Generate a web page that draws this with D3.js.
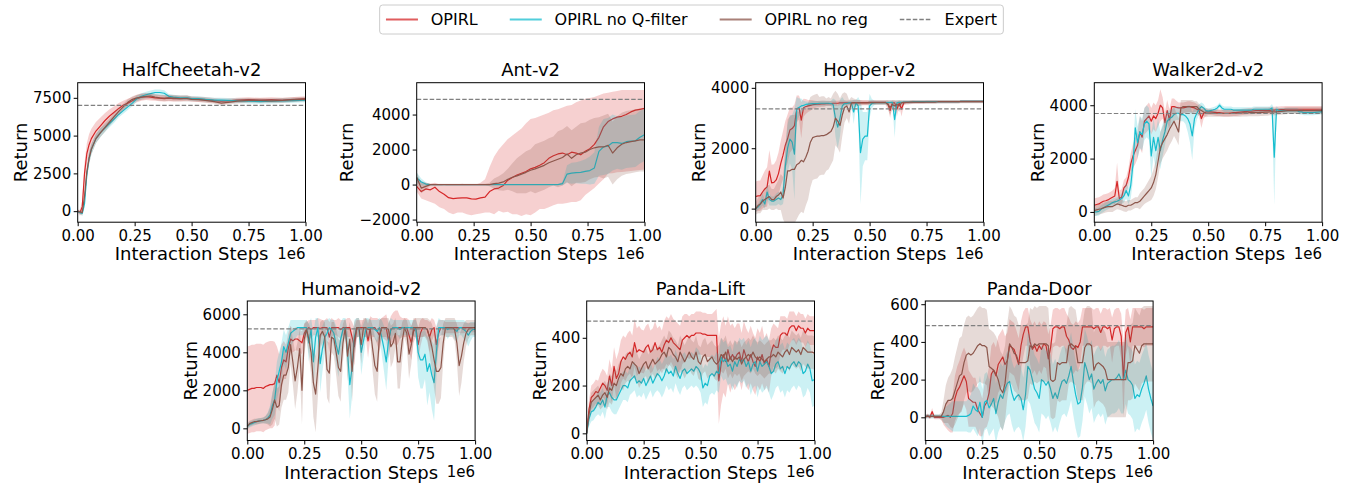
<!DOCTYPE html>
<html><head><meta charset="utf-8">
<script src="https://cdn.jsdelivr.net/npm/d3@7"></script>
<style>
body{margin:0;background:#fff}
svg{display:block}
text{font-family:"DejaVu Sans",sans-serif;fill:#000}
</style>
</head><body>
<svg id="chart" width="1354" height="483"></svg>
<script>
// ---------------- DATA ----------------
const legendLabels = ["OPIRL", "OPIRL no Q-filter", "OPIRL no reg", "Expert"];
const envNames = ["HalfCheetah-v2", "Ant-v2", "Hopper-v2", "Walker2d-v2", "Humanoid-v2", "Panda-Lift", "Panda-Door"];
const xTickValues = [0, 0.25, 0.5, 0.75, 1];
const xTickLabels = ["0.00", "0.25", "0.50", "0.75", "1.00"];
const xLabel = "Interaction Steps";
const xOffsetLabel = "1e6";
const yLabel = "Return";

const steps101 = [0,.01,.02,.03,.04,.05,.06,.07,.08,.09,
.1,.11,.12,.13,.14,.15,.16,.17,.18,.19,
.2,.21,.22,.23,.24,.25,.26,.27,.28,.29,
.3,.31,.32,.33,.34,.35,.36,.37,.38,.39,
.4,.41,.42,.43,.44,.45,.46,.47,.48,.49,
.5,.51,.52,.53,.54,.55,.56,.57,.58,.59,
.6,.61,.62,.63,.64,.65,.66,.67,.68,.69,
.7,.71,.72,.73,.74,.75,.76,.77,.78,.79,
.8,.81,.82,.83,.84,.85,.86,.87,.88,.89,
.9,.91,.92,.93,.94,.95,.96,.97,.98,.99,
1];

// HalfCheetah-v2
const hcSteps = [0,.01,.02,.03,.04,.05,.06,.08,.10,.12,.14,.16,.18,.20,.22,.24,.26,.28,.30,.32,.34,.36,.38,.40,.42,.45,.48,.50,.53,.56,.60,.63,.66,.70,.75,.80,.85,.90,.95,1.0];
const hcOpirl = [0,-100,300,2500,3800,4400,4800,5300,5650,6000,6300,6550,6800,7000,7150,7300,7450,7550,7580,7550,7500,7480,7450,7480,7450,7450,7480,7430,7400,7380,7320,7280,7300,7350,7380,7350,7380,7350,7400,7450];
const hcOpirlStd = [100,200,400,700,700,700,650,600,550,500,450,400,350,300,280,250,250,250,230,220,200,200,200,200,200,180,180,180,170,170,170,170,160,160,150,150,150,150,150,150];
const hcNoQ = [0,-100,-150,500,2400,3500,4100,4800,5200,5500,5800,6100,6400,6650,6900,7150,7450,7600,7700,7780,7850,7850,7800,7600,7550,7500,7500,7450,7450,7400,7350,7350,7330,7300,7280,7250,7280,7300,7320,7350];
const hcNoQStd = [50,100,150,300,400,400,350,300,300,250,250,250,200,200,200,200,200,200,200,200,200,200,200,150,150,150,150,150,150,150,150,150,150,150,150,150,150,150,150,150];
const hcNoReg = [0,-50,-100,1000,2600,3500,4100,4800,5200,5550,5900,6250,6600,6900,7200,7400,7500,7550,7600,7620,7550,7500,7480,7500,7480,7450,7450,7400,7380,7330,7250,7150,7200,7280,7330,7330,7300,7330,7380,7400];
const hcNoRegStd = [50,100,200,400,400,400,350,300,300,300,250,250,250,200,200,200,200,200,200,200,200,200,200,200,200,200,200,150,150,150,150,150,150,150,150,150,150,150,150,150];
const hcExpert = 7000;
const hcYTicks = [0, 2500, 5000, 7500];
const hcYDomain = [-730, 8500];

// Ant-v2
const antSteps = [0,.02,.04,.06,.08,.1,.12,.14,.16,.18,.2,.22,.24,.26,.28,.3,.32,.34,.36,.38,.4,.42,.44,.46,.48,.5,.52,.54,.56,.58,.6,.62,.64,.66,.68,.7,.72,.74,.76,.78,.8,.82,.84,.86,.88,.9,.92,.94,.96,.98,1];
const antOpirl = [-100,-400,-250,-300,-150,-400,-550,-750,-800,-780,
-760,-760,-820,-830,-760,-720,-400,-250,-200,-50,
250,400,550,650,750,900,980,1100,1250,1500,
1650,1750,1800,1700,1850,1800,1700,1900,2050,2300,
2700,3300,3600,3750,3850,3900,4000,4150,4250,4300,
4350];
const antOpirlLo = [-400,-800,-900,-1000,-1100,-1300,-1400,-1600,-1700,-1600,
-1600,-1700,-1750,-1700,-1650,-1600,-1600,-1700,-1500,-1600,
-1560,-1700,-1700,-1800,-1700,-1750,-1600,-1400,-1400,-1300,
-1180,-1100,-1100,-1050,-1000,-1000,-900,-600,-400,-200,
60,300,630,650,700,720,750,780,800,830,
860];
const antOpirlHi = [300,200,100,50,100,0,-50,0,0,0,
50,0,0,0,100,300,1000,1600,2000,2300,
2600,2800,3000,3200,3500,3750,3800,3900,4000,4100,
4250,4300,4400,4500,4550,4700,4800,4900,4950,5000,
5100,5200,5250,5300,5350,5400,5400,5400,5400,5400,
5400];
const antNoQ = [400,150,30,0,0,0,0,0,0,0,
0,0,0,0,0,0,0,0,0,0,
0,0,0,0,0,0,0,0,0,0,
0,0,50,600,650,680,700,750,800,950,
1900,2150,2200,2400,2400,2350,2450,2480,2500,2700,
2850];
const antNoQStd = [300,200,100,20,20,20,20,20,20,20,
20,20,20,20,20,20,20,20,20,20,
20,20,20,20,20,20,20,20,20,20,
20,20,100,500,600,600,650,700,800,900,
1400,1600,1600,1600,1500,1500,1500,1500,1500,1500,
1500];
const antNoReg = [400,-200,-100,0,0,0,0,0,0,0,
0,0,0,0,0,0,0,50,80,150,
300,420,500,600,700,820,900,1000,1100,1250,
1350,1450,1550,1750,1500,1700,1800,1850,2000,2100,
2150,2150,2250,1800,2100,2300,2400,2450,2500,2550,
2550];
const antNoRegStd = [300,300,200,50,50,50,50,50,50,50,
50,50,50,50,50,50,100,300,400,500,
600,800,1000,1100,1200,1200,1400,1400,1400,1400,
1400,1600,1600,1600,1600,1600,1700,1700,1700,1700,
1700,1800,1800,1800,1800,1800,1800,1800,1800,1800,
1800];
const antExpert = 4870;
const antYTicks = [-2000, 0, 2000, 4000];
const antYDomain = [-2150, 5820];

// Hopper-v2
const hopOpirl = [400,420,430,550,650,720,1240,850,870,950,
1160,1500,1770,2100,2320,2600,2650,2750,3300,3350,
2930,3340,3380,3400,3420,3440,3450,3460,3460,3470,
3470,3480,3480,3480,3490,3490,3490,3500,3500,3500,
3500,3500,3500,3510,3510,3510,3510,3510,3510,3510,
3520,3520,3520,3520,3520,3520,3520,3520,3480,3250,
3500,3500,3300,3500,3300,3500,3520,3520,3520,3530,
3530,3530,3530,3530,3530,3540,3540,3540,3540,3540,
3540,3540,3540,3540,3540,3540,3540,3540,3540,3540,
3550,3550,3550,3550,3550,3550,3550,3550,3550,3550,
3550];
const hopOpirlStd = [500,500,500,550,600,650,700,600,600,650,
700,750,800,800,800,750,700,700,450,400,
600,300,250,200,180,150,120,100,100,100,
100,80,80,80,80,80,80,80,80,80,
80,80,80,80,80,80,80,80,80,80,
60,60,60,60,60,60,60,60,100,250,
80,80,250,80,250,80,60,60,60,60,
60,60,60,60,60,60,60,60,60,60,
50,50,50,50,50,50,50,50,50,50,
50,50,50,50,50,50,50,50,50,50,
50];
const hopNoQ = [0,50,150,300,150,550,300,250,250,300,
350,300,450,1400,2000,2300,2200,1800,3300,3350,
3400,3420,3450,3460,3470,3480,3480,3480,3490,3490,
3490,3490,3490,3480,3450,3000,2700,3000,3400,3480,
3480,3500,3500,3200,3500,3400,1850,2300,2400,2400,
3400,3480,3500,3510,3510,3510,3510,3510,3510,3520,
3520,2950,3500,3520,3520,3530,3530,3530,3530,3540,
3540,3540,3540,3540,3540,3540,3540,3540,3540,3540,
3540,3540,3540,3540,3540,3540,3540,3540,3540,3540,
3550,3550,3550,3550,3550,3550,3550,3550,3550,3550,
3550];
const hopNoQStd = [100,100,150,200,150,250,200,150,150,200,
200,200,300,700,800,800,900,1500,400,300,
250,150,100,80,80,80,80,80,80,80,
80,80,80,80,200,600,700,600,300,100,
80,80,80,400,100,300,1700,900,800,800,
400,150,80,60,60,60,60,60,60,60,
60,600,80,60,60,60,50,50,50,50,
50,50,50,50,50,50,50,50,50,50,
50,50,50,50,50,50,50,50,50,50,
50,50,50,50,50,50,50,50,50,50,
50];
const hopNoReg = [0,100,150,250,300,350,400,300,300,400,
450,550,350,700,1250,1250,1300,1300,1450,1500,
1600,1550,1700,1900,2200,2350,2380,2400,2400,2420,
2420,2450,2500,2550,2700,3000,2900,2750,3100,3350,
3400,3200,3500,3500,3500,3500,3500,3500,3500,3500,
3500,3510,3510,3510,3510,3510,3510,3510,3450,3350,
3450,3400,3450,3400,3500,3520,3520,3520,3530,3530,
3530,3530,3530,3530,3530,3530,3530,3530,3530,3530,
3540,3540,3540,3540,3540,3540,3540,3540,3540,3540,
3540,3540,3540,3540,3540,3540,3540,3540,3540,3540,
3540];
const hopNoRegStd = [200,250,300,300,350,400,400,350,350,400,
500,600,700,1200,1700,1800,1800,1800,1800,1700,
1700,1700,1600,1600,1500,1400,1400,1400,1300,1300,
1300,1200,1200,1100,1100,900,900,900,700,500,
400,400,200,150,120,100,100,80,80,80,
80,80,80,80,80,80,80,80,150,250,
150,200,150,200,100,60,60,60,60,60,
50,50,50,50,50,50,50,50,50,50,
50,50,50,50,50,50,50,50,50,50,
50,50,50,50,50,50,50,50,50,50,
50];
const hopExpert = 3300;
const hopYTicks = [0, 2000, 4000];
const hopYDomain = [-450, 4170];

// Walker2d-v2
const wkOpirl = [250,280,300,350,400,420,450,500,550,600,
1150,500,550,900,1000,1300,1800,2100,2300,2500,
3000,2800,3400,3500,3600,3400,3600,3500,3700,4000,
3900,3350,3800,3450,3950,3950,3920,3900,3900,3900,
3920,3950,3950,3920,3900,3850,3800,3500,3700,3750,
3750,3750,3740,3730,3720,3720,3710,3700,3700,3700,
3710,3720,3720,3730,3740,3750,3760,3770,3780,3780,
3790,3800,3800,3800,3800,3800,3800,3810,3820,3820,
3830,3830,3840,3840,3850,3850,3850,3850,3850,3850,
3850,3850,3850,3850,3850,3850,3850,3850,3850,3850,
3850];
const wkOpirlStd = [250,250,250,250,250,250,250,250,250,300,
700,300,300,300,300,350,400,450,500,500,
600,600,500,500,500,500,500,500,500,600,
400,400,400,400,300,300,250,200,200,200,
200,200,200,200,200,200,200,350,200,150,
120,120,120,120,120,120,120,120,120,120,
120,120,120,120,120,120,120,120,120,120,
120,120,120,120,120,120,120,120,120,120,
120,120,120,120,120,120,120,120,120,120,
120,120,120,120,120,120,120,120,120,120,
120];
const wkNoQ = [0,0,20,100,150,200,250,300,350,380,
400,450,500,600,800,600,1000,1800,3150,2600,
3000,2900,3300,3400,3300,2100,2800,2300,2800,2300,
2700,3000,3400,3500,3550,3650,3700,3700,3650,3650,
3600,3500,3300,2850,3500,3700,3850,3950,3900,3800,
3780,3800,3820,3850,3900,4000,3900,3850,3850,3850,
3850,3820,3820,3820,3820,3820,3820,3820,3820,3820,
3850,3850,3850,3850,3850,3850,3850,3850,3900,2050,
3850,3800,3800,3800,3800,3800,3800,3800,3800,3800,
3750,3750,3720,3720,3720,3720,3720,3730,3740,3750,
3750];
const wkNoQStd = [150,150,150,150,150,150,150,150,150,150,
150,150,200,250,300,300,500,600,700,600,
600,600,600,600,600,800,700,700,700,700,
600,500,400,300,300,250,250,250,250,250,
300,500,700,900,400,250,200,150,150,100,
100,100,100,100,100,100,100,100,100,100,
100,100,100,100,100,100,100,100,100,100,
100,100,100,100,100,100,100,100,150,1800,
100,100,100,100,100,100,100,100,100,100,
100,100,100,100,100,100,100,100,100,100,
100];
const wkNoReg = [50,80,100,120,150,180,200,200,200,250,
300,280,250,220,200,250,250,300,350,350,
400,500,600,700,800,900,1100,1400,1900,2400,
2600,2750,2900,3100,3250,3400,3200,3000,3900,3950,
3950,3950,3950,3950,3950,3950,3850,3800,3750,3700,
3700,3700,3700,3700,3700,3700,3700,3700,3700,3700,
3700,3700,3700,3700,3700,3710,3710,3710,3720,3720,
3720,3720,3720,3730,3730,3740,3740,3750,3750,3750,
3750,3760,3770,3780,3790,3800,3800,3800,3800,3800,
3800,3800,3800,3800,3800,3800,3800,3800,3800,3800,
3800];
const wkNoRegStd = [200,200,200,200,200,200,200,200,200,200,
200,200,200,200,200,200,200,200,200,200,
300,300,300,350,400,450,500,550,600,600,
600,600,600,600,600,550,500,500,300,250,
250,250,250,250,200,200,200,200,150,150,
130,130,130,130,130,130,130,130,130,130,
130,130,130,130,130,130,130,130,130,130,
130,130,130,130,130,130,130,130,130,130,
130,130,130,130,130,130,130,130,130,130,
130,130,130,130,130,130,130,130,130,130,
130];
const wkExpert = 3690;
const wkYTicks = [0, 2000, 4000];
const wkYDomain = [-385, 4845];

// Humanoid-v2
const humOpirl = [2000,2050,2100,2100,2150,2150,2150,2100,2200,2250,
2300,2300,2350,2800,2400,3200,3600,3500,4200,4700,
4600,4700,4700,4600,4500,5000,5200,5300,5200,5300,
5300,5300,5250,5300,5300,5300,4800,5300,5300,5300,
5300,5200,5300,5300,5300,5300,4800,4300,5200,5300,
5300,5300,5300,4600,5300,5300,5300,5100,4900,5300,
5300,5300,4600,5200,5300,5300,5300,5300,5300,5300,
5300,4900,4500,5100,5300,4400,5000,5300,5300,5200,
4800,5200,5300,4400,5000,5300,5300,5300,5300,5300,
5300,5300,5300,5300,5300,5300,5300,5300,5300,5300,
5300];
const humOpirlStd = [2300,2300,2300,2300,2300,2300,2300,2300,2300,2300,
2300,2300,2200,1500,1500,1200,1000,900,800,700,
600,600,600,600,600,500,400,400,500,400,
400,500,500,400,400,500,800,500,400,400,
500,500,400,400,500,500,800,1000,500,400,
400,400,500,900,600,500,500,700,800,500,
600,700,900,700,800,900,900,600,500,500,
500,800,900,600,500,900,700,500,400,500,
800,600,400,900,700,400,400,300,300,300,
300,300,300,300,300,300,250,250,250,250,
250];
const humNoQ = [100,200,250,300,350,380,400,420,450,550,
700,1200,1500,2500,3000,3500,4300,4000,4500,5000,
5100,5200,5300,5300,5300,5300,5300,4500,5200,3500,
4800,5300,3400,4200,4800,5000,5300,5200,5000,4400,
3900,4700,5200,5300,4000,2300,3200,4800,5300,5300,
4000,4600,5200,5300,5300,5300,5200,5100,5300,4800,
4200,3500,4600,5200,5300,5300,5300,5200,5300,5300,
5300,5300,5300,5300,5200,4000,3600,3600,3900,3000,
3400,2800,2400,4000,5300,5300,5300,5300,5200,5300,
5300,5200,5100,5300,5300,5200,5100,4900,5100,5200,
5200];
const humNoQStd = [150,150,150,150,150,150,150,150,200,300,
500,700,800,1000,1000,1000,900,900,800,700,
600,500,400,400,400,400,400,1000,600,1500,
1000,500,1500,1200,900,700,500,500,700,1000,
1200,900,600,500,1200,1800,1500,900,500,500,
1200,900,600,500,400,400,500,600,500,900,
1200,1500,1000,600,400,400,400,500,400,400,
400,400,400,400,500,1300,1500,1500,1300,1800,
1500,1800,2000,1400,500,400,400,400,500,400,
400,500,600,400,400,500,500,600,500,400,
400];
const humNoReg = [100,250,300,350,350,380,400,420,450,500,
600,1000,1500,1100,1200,2300,2800,2800,3200,4400,
3500,2500,3200,4200,2000,4700,5200,4700,4000,2400,
1800,3200,4900,5100,4800,3100,2900,4800,4700,4000,
3200,3000,4500,5300,3800,4700,3000,4600,5300,5300,
4400,5300,5300,5200,5200,4200,3300,3000,4800,5300,
5300,5300,5200,4300,4500,5000,3500,3500,4600,5300,
5000,3900,4400,5300,5300,5300,5300,5300,5300,5200,
4800,4300,3600,3000,3000,3200,4500,5300,5300,5300,
5300,5200,4500,3300,3800,4500,5000,5200,5300,5300,
5300];
const humNoRegStd = [150,150,150,150,150,150,150,150,200,300,
500,800,1000,1000,1000,1200,1300,1300,1300,1000,
1200,1500,1300,1000,1800,800,500,800,1200,1800,
2000,1500,700,600,800,1500,1600,800,900,1200,
1500,1600,1000,500,1300,900,1600,1000,500,500,
1000,500,500,500,600,1200,1500,1600,900,500,
500,500,600,1100,1000,800,1400,1400,1000,500,
700,1300,1000,500,500,500,500,500,500,600,
900,1200,1500,1700,1700,1600,1000,500,500,500,
500,600,1000,1600,1400,1000,700,500,400,400,
400];
const humExpert = 5230;
const humYTicks = [0, 2000, 4000, 6000];
const humYDomain = [-640, 6700];

// Panda-Lift
const liftOpirl = [0,100,150,160,175,170,190,210,200,180,
240,200,280,230,250,300,320,310,330,340,
320,380,340,350,345,340,360,370,340,350,
380,350,360,340,370,390,380,400,380,370,
360,350,390,400,410,400,410,410,420,420,
420,415,415,410,410,410,410,410,220,290,
330,300,350,310,330,310,330,340,300,350,
320,300,330,300,280,320,300,330,290,310,
280,340,370,360,360,410,420,420,410,440,
450,450,430,450,440,440,420,440,430,430,
430];
const liftOpirlStd = [10,40,50,50,50,50,60,60,60,60,
70,70,80,80,90,90,90,90,90,90,
90,100,100,100,90,90,90,90,90,90,
90,90,90,90,100,100,100,100,100,100,
100,100,100,100,90,90,90,90,90,90,
90,90,90,90,90,90,100,110,180,170,
160,150,140,140,130,130,130,120,120,120,
120,120,120,120,120,120,120,120,110,110,
110,100,90,90,80,80,70,70,70,70,
60,60,60,60,60,60,60,60,60,60,
60];
const liftNoQ = [0,60,90,95,110,130,120,140,110,160,
170,150,140,140,160,180,200,200,190,220,
230,240,210,220,210,230,200,220,240,210,
230,250,240,220,240,270,250,260,240,280,
250,230,260,270,250,260,270,260,280,270,
250,190,210,200,240,250,240,260,250,320,
300,310,280,290,260,300,280,310,300,310,
280,300,260,290,300,260,300,280,290,300,
280,250,260,290,300,270,280,250,280,270,
290,300,280,300,290,250,260,290,270,220,
225];
const liftNoQStd = [10,30,40,40,40,50,50,50,50,50,
60,60,60,60,60,60,60,60,60,60,
60,60,60,60,60,60,60,60,60,60,
60,70,70,70,70,70,70,70,70,70,
70,70,70,70,70,70,70,70,80,80,
80,80,80,80,80,80,80,80,80,80,
80,80,80,80,80,90,90,90,90,90,
90,90,100,100,100,110,110,110,110,110,
110,110,100,100,100,100,100,100,100,100,
100,100,100,100,100,100,100,100,100,110,
110];
const liftNoReg = [0,80,130,140,150,160,140,160,170,150,
190,180,210,200,230,250,240,270,280,270,
300,290,280,250,270,290,300,270,290,310,
290,300,310,330,340,320,360,350,330,320,
300,340,320,300,320,340,320,310,340,300,
290,320,330,300,310,320,300,290,300,330,
320,340,300,320,300,320,310,320,290,310,
320,330,320,340,320,310,320,310,300,310,
320,320,330,320,340,330,320,340,350,330,
360,350,340,350,330,360,350,340,340,340,
335];
const liftNoRegStd = [10,30,40,40,40,40,40,50,50,50,
60,60,60,60,60,60,60,60,60,60,
60,60,60,60,60,60,60,60,60,60,
60,60,60,60,70,70,70,70,70,70,
70,70,70,70,70,70,70,70,70,70,
70,70,70,70,70,70,70,70,70,70,
70,70,70,70,70,70,70,70,70,70,
70,70,70,70,70,70,70,70,70,70,
70,70,70,70,70,70,70,70,70,70,
70,70,70,70,70,70,70,70,70,70,
70];
const liftExpert = 470;
const liftYTicks = [0, 200, 400];
const liftYDomain = [-30, 554];

// Panda-Door
const doorOpirl = [0,10,0,30,0,0,0,0,0,5,
10,0,20,100,140,160,190,220,190,100,
90,80,80,40,20,0,60,80,130,230,
250,220,280,300,320,280,300,380,370,360,
320,280,380,440,480,480,400,360,380,350,
380,360,390,380,310,370,470,480,480,470,
480,480,430,410,370,360,380,370,400,480,
480,480,480,480,470,480,480,450,480,480,
470,480,410,470,480,480,430,200,450,480,
400,480,480,480,480,480,470,480,480,480,
480];
const doorOpirlStd = [10,10,10,20,10,10,10,10,40,60,
80,80,100,120,130,140,150,150,150,150,
140,130,130,120,120,100,120,130,140,150,
150,150,150,150,150,150,150,140,140,140,
140,140,130,120,100,100,120,130,130,130,
130,130,120,120,130,120,100,100,100,100,
100,100,120,120,130,130,130,130,120,100,
100,100,100,100,100,100,100,100,100,100,
100,100,120,100,100,100,120,200,120,100,
120,100,100,100,100,100,100,100,100,100,
100];
const doorNoQ = [5,5,5,5,5,5,5,5,5,5,
5,5,5,5,5,5,5,5,5,10,
20,60,40,30,80,0,80,90,50,70,
100,20,80,120,100,150,180,190,130,90,
110,120,100,40,120,270,250,200,150,130,
100,200,190,170,190,150,100,130,100,150,
190,200,180,220,270,190,120,70,80,160,
290,250,200,230,150,180,200,180,200,140,
180,190,200,200,210,230,200,200,250,200,
190,170,100,120,110,150,180,220,150,100,
60];
const doorNoQStd = [10,10,10,10,10,10,10,10,30,50,
60,70,80,80,80,80,80,80,80,90,
100,120,120,130,140,150,150,150,150,150,
160,160,160,170,170,170,170,170,170,170,
170,170,170,170,170,180,180,180,180,180,
180,180,180,180,180,180,180,180,180,180,
180,180,180,180,180,180,180,180,180,180,
180,180,180,180,180,180,180,180,180,180,
180,180,180,180,180,180,180,180,180,180,
180,180,180,180,180,180,180,180,180,180,
180];
const doorNoReg = [5,5,5,5,5,5,5,5,30,70,
90,90,100,140,180,220,230,290,330,340,
330,340,360,380,390,380,380,370,270,260,
250,230,200,150,130,180,300,390,370,340,
330,290,290,290,290,300,380,370,390,380,
390,390,390,390,380,200,190,200,290,280,
290,290,290,380,390,380,370,290,290,290,
370,390,390,380,250,280,290,280,270,250,
200,200,200,200,200,200,200,200,200,290,
290,300,380,360,340,380,390,390,390,390,
390];
const doorNoRegStd = [10,10,10,10,10,10,10,20,60,100,
120,140,160,180,190,200,200,200,200,200,
200,200,200,200,200,200,200,200,200,200,
200,200,200,200,200,200,200,200,200,200,
200,200,200,200,200,200,200,200,200,200,
200,200,200,200,200,200,200,200,200,200,
200,200,200,200,200,200,200,200,200,200,
200,200,200,200,200,200,200,200,200,200,
200,200,200,200,200,200,200,200,200,200,
200,200,200,200,200,200,200,200,200,200,
200];
const doorExpert = 486;
const doorYTicks = [0, 200, 400, 600];
const doorYDomain = [-123, 617];

// ---------------- CHART ----------------
const colors = ["#d62728", "#17becf", "#8c564b"];
const expertColor = "#808080";
const W = 227.8, H = 139.5;

const panels = [
  {title: envNames[0], steps: hcSteps, series: [{mean: hcOpirl, std: hcOpirlStd}, {mean: hcNoQ, std: hcNoQStd}, {mean: hcNoReg, std: hcNoRegStd}], expert: hcExpert, yTicks: hcYTicks, yDomain: hcYDomain, left: 77.7, top: 82.7},
  {title: envNames[1], steps: antSteps, series: [{mean: antOpirl, lo: antOpirlLo, hi: antOpirlHi}, {mean: antNoQ, std: antNoQStd}, {mean: antNoReg, std: antNoRegStd}], expert: antExpert, yTicks: antYTicks, yDomain: antYDomain, left: 416.7, top: 82.7},
  {title: envNames[2], steps: steps101, series: [{mean: hopOpirl, std: hopOpirlStd}, {mean: hopNoQ, std: hopNoQStd}, {mean: hopNoReg, std: hopNoRegStd}], expert: hopExpert, yTicks: hopYTicks, yDomain: hopYDomain, left: 755.7, top: 82.7},
  {title: envNames[3], steps: steps101, series: [{mean: wkOpirl, std: wkOpirlStd}, {mean: wkNoQ, std: wkNoQStd}, {mean: wkNoReg, std: wkNoRegStd}], expert: wkExpert, yTicks: wkYTicks, yDomain: wkYDomain, left: 1094.3, top: 82.7},
  {title: envNames[4], steps: steps101, series: [{mean: humOpirl, std: humOpirlStd}, {mean: humNoQ, std: humNoQStd}, {mean: humNoReg, std: humNoRegStd}], expert: humExpert, yTicks: humYTicks, yDomain: humYDomain, left: 247.3, top: 301},
  {title: envNames[5], steps: steps101, series: [{mean: liftOpirl, std: liftOpirlStd}, {mean: liftNoQ, std: liftNoQStd}, {mean: liftNoReg, std: liftNoRegStd}], expert: liftExpert, yTicks: liftYTicks, yDomain: liftYDomain, left: 586.7, top: 301},
  {title: envNames[6], steps: steps101, series: [{mean: doorOpirl, std: doorOpirlStd}, {mean: doorNoQ, std: doorNoQStd}, {mean: doorNoReg, std: doorNoRegStd}], expert: doorExpert, yTicks: doorYTicks, yDomain: doorYDomain, left: 925.3, top: 301}
];

// sanity check lengths
panels.forEach(p => p.series.forEach((s, k) => {
  const arrs = [s.mean, s.std, s.lo, s.hi].filter(a => a);
  arrs.forEach(a => { if (a.length !== p.steps.length) throw new Error(p.title + " series " + k + " length " + a.length + " vs " + p.steps.length); });
}));

const svg = d3.select("#chart");
const fmtY = v => v < 0 ? "\u2212" + Math.abs(v) : String(v);

panels.forEach((p, pi) => {
  const g = svg.append("g").attr("transform", `translate(${p.left},${p.top})`);
  const x = d3.scaleLinear().domain([0, 1]).range([0, W]);
  const y = d3.scaleLinear().domain(p.yDomain).range([H, 0]);
  const clipId = "clip" + pi;
  g.append("clipPath").attr("id", clipId).append("rect").attr("width", W).attr("height", H);
  const plot = g.append("g").attr("clip-path", `url(#${clipId})`);

  p.series.forEach((s, k) => {
    const pts = p.steps.map((t, j) => ({
      t: t, m: s.mean[j],
      lo: s.lo ? s.lo[j] : s.mean[j] - s.std[j],
      hi: s.hi ? s.hi[j] : s.mean[j] + s.std[j]
    }));
    plot.append("path").datum(pts)
      .attr("d", d3.area().x(d => x(d.t)).y0(d => y(d.lo)).y1(d => y(d.hi)))
      .attr("fill", colors[k]).attr("fill-opacity", 0.22).attr("stroke", "none");
    plot.append("path").datum(pts)
      .attr("d", d3.line().x(d => x(d.t)).y(d => y(d.m)))
      .attr("fill", "none").attr("stroke", colors[k]).attr("stroke-width", 1.2)
      .attr("stroke-linejoin", "round");
  });

  plot.append("line")
    .attr("x1", x(0)).attr("x2", x(1)).attr("y1", y(p.expert)).attr("y2", y(p.expert))
    .attr("stroke", expertColor).attr("stroke-width", 1.2).attr("stroke-dasharray", "4.5,2");

  g.append("rect").attr("width", W).attr("height", H)
    .attr("fill", "none").attr("stroke", "#000").attr("stroke-width", 1);

  const xa = g.append("g").attr("transform", `translate(0,${H})`)
    .call(d3.axisBottom(x).tickValues(xTickValues).tickFormat((d, i) => xTickLabels[i]).tickSize(4).tickPadding(4));
  xa.attr("font-size", 15).attr("font-family", "DejaVu Sans");
  xa.select(".domain").remove();

  const ya = g.append("g")
    .call(d3.axisLeft(y).tickValues(p.yTicks).tickFormat(fmtY).tickSize(4).tickPadding(2.5));
  ya.attr("font-size", 15).attr("font-family", "DejaVu Sans");
  ya.select(".domain").remove();

  let minLeft = 0;
  ya.selectAll("text").each(function () {
    const b = this.getBBox();
    minLeft = Math.min(minLeft, b.x - 4 - 2.5 + 0);
  });
  // getBBox x is relative to tick group (which has x=0) ; text x already includes offset
  minLeft = 0;
  ya.selectAll("text").each(function () { const b = this.getBBox(); minLeft = Math.min(minLeft, b.x); });

  g.append("text").attr("transform", `translate(${minLeft - 6},${H / 2}) rotate(-90)`)
    .attr("text-anchor", "middle").attr("font-size", 18).text(yLabel);

  g.append("text").attr("x", W / 2).attr("y", -6.5).attr("text-anchor", "middle")
    .attr("font-size", 18).text(p.title);

  g.append("text").attr("x", W / 2).attr("y", H + 38).attr("text-anchor", "middle")
    .attr("font-size", 18).text(xLabel);

  g.append("text").attr("x", W).attr("y", H + 36.5).attr("text-anchor", "end")
    .attr("font-size", 15).text(xOffsetLabel);
});

// ---------------- LEGEND ----------------
const lg = svg.append("g");
const fs = 16, handleLen = 32, handlePad = 12.8, colSpace = 32, boxPad = 6.3;
const items = [];
let cx = 0;
const tmp = lg.append("g");
legendLabels.forEach((lab, i) => {
  const t = tmp.append("text").attr("font-size", fs).text(lab);
  const w = t.node().getComputedTextLength();
  items.push({lab, x: cx, w});
  cx += handleLen + handlePad + w + (i < legendLabels.length - 1 ? colSpace : 0);
});
tmp.remove();
const totalW = cx + 2 * boxPad;
const boxX = 691.5 - totalW / 2, boxY = 5, boxH = 29;
lg.append("rect").attr("x", boxX).attr("y", boxY).attr("width", totalW).attr("height", boxH)
  .attr("rx", 3).attr("fill", "#fff").attr("stroke", "#cccccc").attr("stroke-width", 1);
items.forEach((it, i) => {
  const x0 = boxX + boxPad + it.x;
  const ln = lg.append("line").attr("x1", x0).attr("x2", x0 + handleLen)
    .attr("y1", 19.5).attr("y2", 19.5);
  if (i < 3) {
    ln.attr("stroke", colors[i]).attr("stroke-width", 2).attr("stroke-opacity", 0.75);
  } else {
    ln.attr("stroke", expertColor).attr("stroke-width", 1.3).attr("stroke-dasharray", "4.5,2");
  }
  lg.append("text").attr("x", x0 + handleLen + handlePad).attr("y", 25.3)
    .attr("font-size", fs).text(it.lab);
});
</script>
</body></html>
